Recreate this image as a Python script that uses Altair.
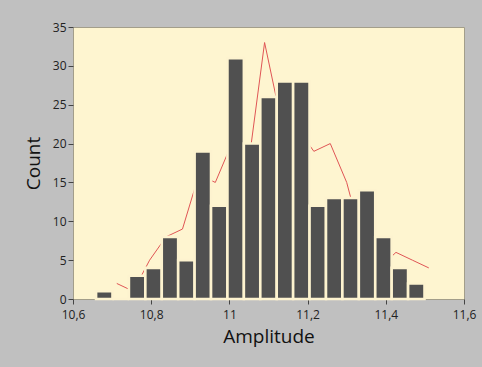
import altair as alt
import pandas as pd

# Histogram bins (Amplitude) and counts
bin_start = [10.659, 10.701, 10.743, 10.785, 10.827, 10.869, 10.911, 10.953, 10.995, 11.037,
             11.079, 11.121, 11.163, 11.205, 11.247, 11.289, 11.331, 11.373, 11.415, 11.457]
bin_end = [10.701, 10.743, 10.785, 10.827, 10.869, 10.911, 10.953, 10.995, 11.037, 11.079,
           11.121, 11.163, 11.205, 11.247, 11.289, 11.331, 11.373, 11.415, 11.457, 11.499]
counts = [1, 0, 3, 4, 8, 5, 19, 12, 31, 20, 26, 28, 28, 12, 13, 13, 14, 8, 4, 2]

# Red frequency polygon
line_x = [10.712, 10.754, 10.796, 10.838, 10.880, 10.922, 10.964, 11.006, 11.048, 11.090,
          11.132, 11.174, 11.216, 11.258, 11.300, 11.342, 11.384, 11.426, 11.468, 11.510]
line_y = [2, 1, 5, 8, 9, 16, 15, 20, 17, 33, 23, 22, 19, 20, 15, 7, 4, 6, 5, 4]

x_ticks = [10.6, 10.8, 11.0, 11.2, 11.4, 11.6]
y_ticks = [0, 5, 10, 15, 20, 25, 30, 35]

bars_df = pd.DataFrame({"start": bin_start, "end": bin_end, "count": counts})
line_df = pd.DataFrame({"x": line_x, "y": line_y})

FONT = "Open Sans"

x_scale = alt.Scale(domain=[10.6, 11.6], nice=False, zero=False)
y_scale = alt.Scale(domain=[0, 35], nice=False)

x_axis = alt.Axis(
    title="Amplitude", values=x_ticks,
    labelExpr="replace(format(datum.value, '~g'), '.', ',')",
    domain=False, ticks=True, tickSize=5, tickColor="#444444", tickWidth=1,
    labelFontSize=12, labelColor="#222222", labelPadding=5, labelFont=FONT,
    titleFontSize=19, titleFontWeight="normal", titleColor="#111111",
    titlePadding=7, titleFont=FONT, grid=False, labelFlush=False,
)
y_axis = alt.Axis(
    title="Count", values=y_ticks,
    domain=False, ticks=True, tickSize=5, tickColor="#444444", tickWidth=1,
    labelFontSize=12, labelColor="#222222", labelPadding=2, labelFont=FONT,
    titleFontSize=19, titleFontWeight="normal", titleColor="#111111",
    titlePadding=9, titleFont=FONT, grid=False, labelOverlap=False,
)

line = alt.Chart(line_df).mark_line(color="#e05555", strokeWidth=1).encode(
    x=alt.X("x:Q", scale=x_scale, axis=x_axis),
    y=alt.Y("y:Q", scale=y_scale, axis=y_axis),
)

bars = alt.Chart(bars_df).mark_rect(
    color="#505050", stroke="#fdf3cf", strokeWidth=2.6
).encode(
    x=alt.X("start:Q", scale=x_scale, axis=x_axis),
    x2="end:Q",
    y=alt.Y("count:Q", scale=y_scale, axis=y_axis),
    y2=alt.datum(0),
)

chart = alt.layer(line, bars).properties(
    width=391, height=272,
    padding={"left": 73, "top": 27, "right": 18, "bottom": 68},
    autosize=alt.AutoSizeParams(type="none"),
).configure(
    background="#c0c0c0",
).configure_view(
    fill="#fef5d0", stroke="#a39e8a", strokeWidth=1,
)

chart.save("out.html", embed_options={"renderer": "svg", "actions": False})
